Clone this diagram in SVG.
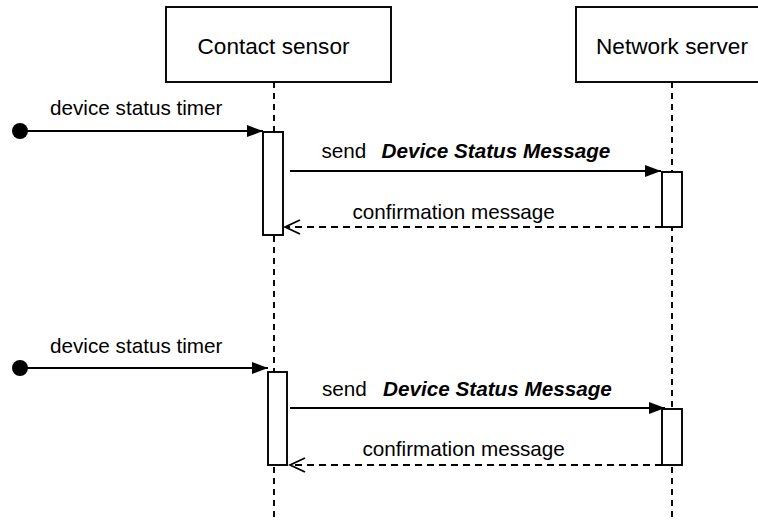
<svg xmlns="http://www.w3.org/2000/svg" width="758" height="520" viewBox="0 0 758 520">
<defs>
<style>
.box{fill:#fff;stroke:#000;stroke-width:1.9}
.life{fill:none;stroke:#000;stroke-width:1.9;stroke-dasharray:6 5}
.msg{fill:none;stroke:#000;stroke-width:1.9}
.ret{fill:none;stroke:#000;stroke-width:1.9;stroke-dasharray:7 5}
.hdr{font-family:"Liberation Sans",Arial,sans-serif;font-size:22.6px;fill:#000}
.lbl{font-family:"Liberation Sans",Arial,sans-serif;font-size:20.7px;fill:#000}
.bi{font-weight:bold;font-style:italic}
</style>
<marker id="filled" markerWidth="16" markerHeight="12" refX="16" refY="6" orient="auto" markerUnits="userSpaceOnUse">
<path d="M0,0 L16,6 L0,12 Z" fill="#000"/>
</marker>
<marker id="open" markerWidth="18" markerHeight="16" refX="16" refY="8" orient="auto" markerUnits="userSpaceOnUse">
<path d="M1,1 L16,8 L1,15" fill="none" stroke="#000" stroke-width="1.9"/>
</marker>
</defs>
<g id="lifelines">
<line class="life" x1="274" y1="82" x2="274" y2="520"/>
<line class="life" x1="672" y1="82" x2="672" y2="520"/>
</g>
<g id="contact-sensor">
<rect class="box" x="166" y="7" width="225" height="75"/>
<text class="hdr" x="273.5" y="54" text-anchor="middle">Contact sensor</text>
</g>
<g id="network-server">
<rect class="box" x="576" y="7" width="200" height="75"/>
<text class="hdr" x="672" y="54" text-anchor="middle">Network server</text>
</g>
<g id="act-cs-1"><rect class="box" x="263" y="132" width="20" height="103"/></g>
<g id="act-ns-1"><rect class="box" x="662" y="172" width="20" height="55"/></g>
<g id="act-cs-2"><rect class="box" x="268" y="372" width="19" height="93"/></g>
<g id="act-ns-2"><rect class="box" x="662" y="409" width="20" height="56"/></g>
<g id="start-1"><circle cx="20" cy="131" r="8" fill="#000"/></g>
<g id="start-2"><circle cx="20" cy="368" r="8" fill="#000"/></g>
<g id="connectors">
<line class="msg" x1="20" y1="131" x2="263" y2="131" marker-end="url(#filled)"/>
<line class="msg" x1="290" y1="171" x2="661" y2="171" marker-end="url(#filled)"/>
<line class="ret" x1="662" y1="227" x2="285" y2="227" marker-end="url(#open)"/>
<line class="msg" x1="20" y1="368" x2="268" y2="368" marker-end="url(#filled)"/>
<line class="msg" x1="290" y1="408" x2="665" y2="408" marker-end="url(#filled)"/>
<line class="ret" x1="662" y1="465" x2="290" y2="465" marker-end="url(#open)"/>
</g>
<g id="labels">
<text class="lbl" x="50" y="115">device status timer</text>
<text class="lbl" x="321.5" y="158">send<tspan class="bi" x="381.5">Device Status Message</tspan></text>
<text class="lbl" x="352.5" y="218.5">confirmation message</text>
<text class="lbl" x="50" y="352.5">device status timer</text>
<text class="lbl" x="322" y="396">send<tspan class="bi" x="383">Device Status Message</tspan></text>
<text class="lbl" x="362.5" y="455.5">confirmation message</text>
</g>
</svg>
